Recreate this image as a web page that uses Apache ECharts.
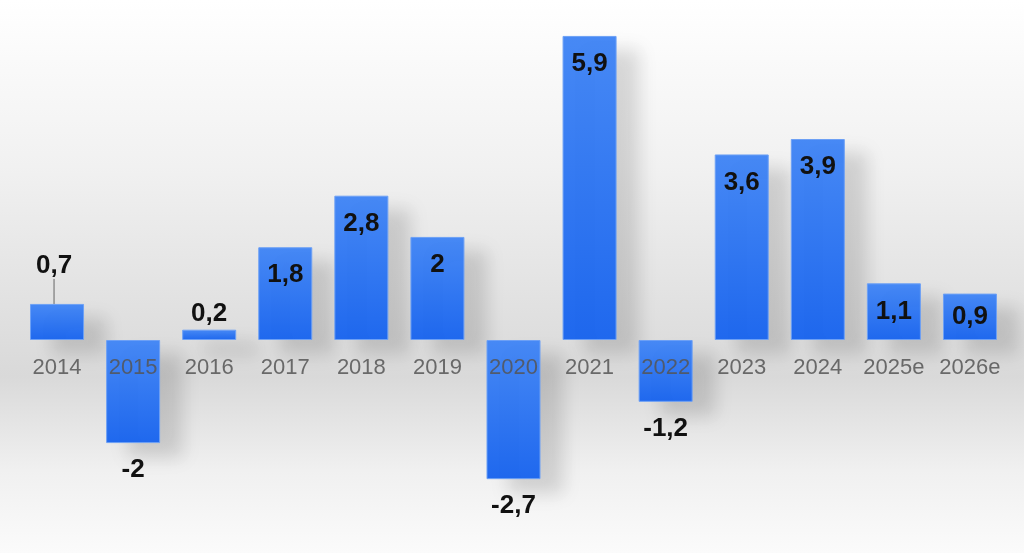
<!DOCTYPE html>
<html>
<head>
<meta charset="utf-8">
<script src="https://cdn.jsdelivr.net/npm/echarts@6/dist/echarts.min.js"></script>
<style>
html,body{margin:0;padding:0;background:#fff;}
#c{width:1024px;height:553px;}
</style>
</head>
<body>
<div id="c"></div>
<script>
var categories = ['2014','2015','2016','2017','2018','2019','2020','2021','2022','2023','2024','2025e','2026e'];
var values = [0.7, -2, 0.2, 1.8, 2.8, 2, -2.7, 5.9, -1.2, 3.6, 3.9, 1.1, 0.9];

function fmt(v){ return String(v).replace('.', ','); }

var chart = echarts.init(document.getElementById('c'));

var seriesData = values.map(function(v, i){
  var label;
  if (v < 0) {
    label = {position: 'bottom', distance: 14};
  } else if (v < 1) {
    label = {position: 'top', distance: 3};
  } else if (v < 1.5) {
    label = {position: 'inside'};
  } else {
    label = {position: 'insideTop', distance: 15};
  }
  return {value: v, label: label, labelLine: {show: false}};
});
// 2026e sits inside
seriesData[12].label = {position: 'inside'};
seriesData[0].labelLine = {show: true};

var gridTop = 5, gridBottom = 32.6, yMin = -3.5, yMax = 6.5;
var zeroY = 340;
var axisOffset = zeroY - (553 - gridBottom);

var option = {
  backgroundColor: {
    type: 'linear', x: 0, y: 0, x2: 0, y2: 1,
    colorStops: [
      {offset: 0, color: '#ffffff'},
      {offset: 0.3, color: '#f1f1f1'},
      {offset: 0.68, color: '#d9d9d9'},
      {offset: 0.85, color: '#f0f0f0'},
      {offset: 1, color: '#fbfbfb'}
    ]
  },
  animation: false,
  grid: {left: 19, right: 16, top: gridTop, bottom: gridBottom, containLabel: false},
  xAxis: {
    type: 'category',
    data: categories,
    z: 10,
    offset: axisOffset,
    axisLine: {show: false, onZero: false},
    axisTick: {show: false},
    axisLabel: {
      interval: 0,
      hideOverlap: false,
      color: 'rgba(85,85,85,0.85)',
      fontSize: 22,
      fontFamily: 'Liberation Sans, Arial, sans-serif',
      margin: 17
    }
  },
  yAxis: {
    type: 'value',
    min: yMin,
    max: yMax,
    show: false,
    splitLine: {show: false}
  },
  series: [{
    type: 'bar',
    data: seriesData,
    barWidth: 54,
    itemStyle: {
      color: {
        type: 'linear', x: 0, y: 0, x2: 0, y2: 1,
        colorStops: [
          {offset: 0, color: '#4789f5'},
          {offset: 1, color: '#1f68ee'}
        ]
      },
      borderColor: '#6da0f5',
      borderWidth: 1,
      shadowColor: 'rgba(0,0,0,0.14)',
      shadowBlur: 18,
      shadowOffsetX: 22,
      shadowOffsetY: 14
    },
    label: {
      show: true,
      color: '#111',
      fontWeight: 'bold',
      fontSize: 26,
      fontFamily: 'Liberation Sans, Arial, sans-serif',
      formatter: function(p){ return fmt(p.value); }
    },
    labelLine: {
      show: false,
      lineStyle: {color: '#666', width: 1}
    },
    labelLayout: function(params){
      if (params.dataIndex === 0) {
        return {dy: -22, dx: -3};
      }
      return {};
    }
  }]
};
chart.setOption(option);
</script>
</body>
</html>
